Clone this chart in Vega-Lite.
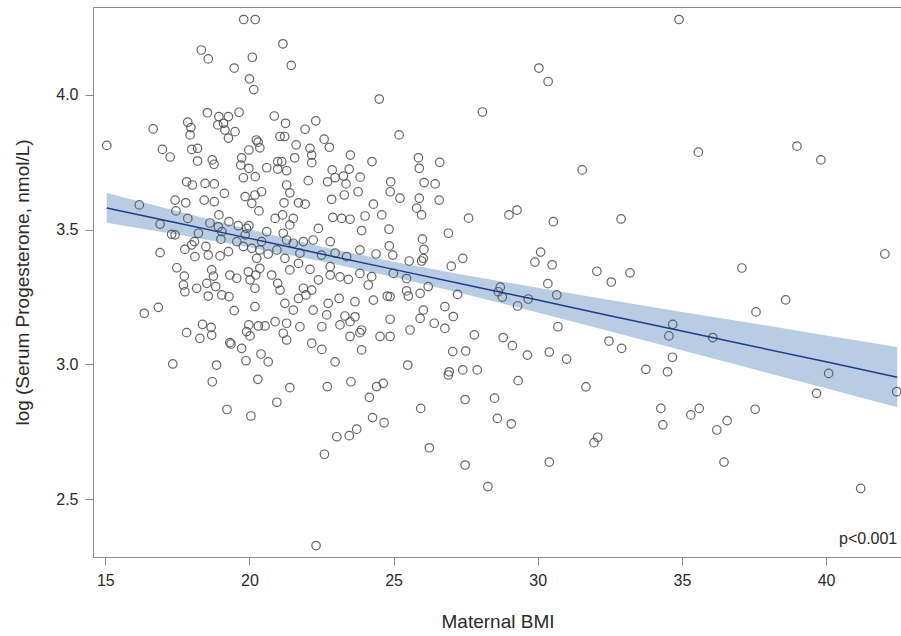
{
  "$schema": "https://vega.github.io/schema/vega-lite/v6.json",
  "width": 809,
  "height": 550,
  "autosize": {"type": "none"},
  "padding": {"left": 93, "top": 7, "right": 0, "bottom": 79},
  "background": "white",
  "config": {
    "view": {"stroke": "#8c8c8c", "strokeWidth": 1},
    "font": "Liberation Sans",
    "axis": {
      "grid": false,
      "domainColor": "#8c8c8c",
      "tickColor": "#8c8c8c",
      "tickSize": 8,
      "labelFontSize": 16,
      "labelColor": "#2a2a2a",
      "labelPadding": 7,
      "titleFontSize": 19,
      "titleFontWeight": "normal",
      "titleColor": "#2a2a2a"
    }
  },
  "datasets": {
    "pts": [
      {"bmi":19.8,"p":4.28},{"bmi":20.2,"p":4.28},{"bmi":18.33,"p":4.167},{"bmi":18.57,"p":4.134},{"bmi":20.1,"p":4.14},{"bmi":19.47,"p":4.10},{"bmi":20.0,"p":4.06},{"bmi":20.15,"p":4.02},{"bmi":21.16,"p":4.19},{"bmi":21.45,"p":4.11},{"bmi":24.5,"p":3.985},{"bmi":30.04,"p":4.10},{"bmi":30.36,"p":4.05},{"bmi":34.9,"p":4.28},{"bmi":28.08,"p":3.937},
      {"bmi":18.54,"p":3.934},{"bmi":18.94,"p":3.92},{"bmi":19.27,"p":3.92},{"bmi":19.64,"p":3.936},{"bmi":18.9,"p":3.889},{"bmi":19.15,"p":3.87},{"bmi":19.5,"p":3.864},{"bmi":19.27,"p":3.84},{"bmi":19.1,"p":3.895},{"bmi":17.86,"p":3.899},{"bmi":17.97,"p":3.879},{"bmi":17.94,"p":3.852},{"bmi":16.66,"p":3.874},{"bmi":15.05,"p":3.813},{"bmi":16.98,"p":3.798},{"bmi":17.25,"p":3.77},{"bmi":18.0,"p":3.798},{"bmi":18.2,"p":3.802},{"bmi":18.2,"p":3.755},{"bmi":18.71,"p":3.759},{"bmi":18.77,"p":3.743},{"bmi":19.73,"p":3.767},{"bmi":19.98,"p":3.796},{"bmi":20.24,"p":3.833},{"bmi":20.36,"p":3.804},{"bmi":20.3,"p":3.825},{"bmi":19.7,"p":3.74},{"bmi":19.98,"p":3.728},{"bmi":20.2,"p":3.697},{"bmi":19.79,"p":3.693},{"bmi":20.6,"p":3.73},{"bmi":20.86,"p":3.922},{"bmi":20.98,"p":3.753},{"bmi":20.98,"p":3.725},{"bmi":17.82,"p":3.678},{"bmi":18.02,"p":3.666},{"bmi":18.46,"p":3.672},{"bmi":18.78,"p":3.67},{"bmi":21.06,"p":3.846},
      {"bmi":21.25,"p":3.895},{"bmi":21.22,"p":3.846},{"bmi":22.3,"p":3.904},{"bmi":21.93,"p":3.873},{"bmi":21.62,"p":3.815},{"bmi":21.57,"p":3.767},{"bmi":22.1,"p":3.802},{"bmi":22.16,"p":3.777},{"bmi":22.16,"p":3.749},{"bmi":22.59,"p":3.836},{"bmi":22.77,"p":3.806},{"bmi":23.5,"p":3.777},{"bmi":24.25,"p":3.753},{"bmi":25.19,"p":3.852},{"bmi":25.86,"p":3.767},{"bmi":25.89,"p":3.728},{"bmi":26.6,"p":3.75},{"bmi":22.87,"p":3.722},{"bmi":23.46,"p":3.725},{"bmi":23.26,"p":3.699},{"bmi":22.97,"p":3.693},{"bmi":23.84,"p":3.695},{"bmi":22.04,"p":3.682},{"bmi":22.71,"p":3.678},{"bmi":23.35,"p":3.67},{"bmi":24.9,"p":3.678},{"bmi":26.06,"p":3.675},{"bmi":26.44,"p":3.67},{"bmi":21.29,"p":3.719},{"bmi":21.29,"p":3.666},{"bmi":21.12,"p":3.753},
      {"bmi":31.54,"p":3.722},{"bmi":35.57,"p":3.788},{"bmi":38.99,"p":3.81},{"bmi":39.82,"p":3.759},{"bmi":30.54,"p":3.53},{"bmi":32.89,"p":3.54},{"bmi":27.6,"p":3.543},{"bmi":29.0,"p":3.555},{"bmi":29.28,"p":3.573},
      {"bmi":26.9,"p":3.487},{"bmi":26.58,"p":3.61},{"bmi":25.89,"p":3.617},{"bmi":25.8,"p":3.58},{"bmi":25.97,"p":3.555},{"bmi":26.0,"p":3.465},{"bmi":26.05,"p":3.427},{"bmi":26.03,"p":3.394},{"bmi":25.97,"p":3.384},{"bmi":27.0,"p":3.365},{"bmi":27.4,"p":3.394},{"bmi":27.22,"p":3.26},
      {"bmi":21.4,"p":3.637},{"bmi":21.2,"p":3.6},{"bmi":21.7,"p":3.6},{"bmi":21.93,"p":3.595},{"bmi":21.15,"p":3.555},{"bmi":21.52,"p":3.542},{"bmi":21.4,"p":3.518},{"bmi":21.17,"p":3.487},{"bmi":22.85,"p":3.613},{"bmi":23.29,"p":3.629},{"bmi":23.77,"p":3.641},{"bmi":24.3,"p":3.595},{"bmi":24.88,"p":3.641},{"bmi":25.22,"p":3.617},{"bmi":22.89,"p":3.546},{"bmi":23.2,"p":3.542},{"bmi":23.49,"p":3.539},{"bmi":24.01,"p":3.551},{"bmi":24.59,"p":3.555},{"bmi":22.39,"p":3.505},{"bmi":23.89,"p":3.497},{"bmi":24.84,"p":3.502},{"bmi":22.8,"p":3.456},{"bmi":22.21,"p":3.462},{"bmi":21.87,"p":3.456},{"bmi":21.52,"p":3.45},{"bmi":21.29,"p":3.462},{"bmi":23.83,"p":3.425},{"bmi":24.39,"p":3.41},{"bmi":24.85,"p":3.44},{"bmi":24.97,"p":3.406},{"bmi":25.54,"p":3.384},{"bmi":23.37,"p":3.4},{"bmi":22.97,"p":3.413},{"bmi":22.5,"p":3.406},{"bmi":21.75,"p":3.413},{"bmi":21.23,"p":3.394},{"bmi":21.7,"p":3.375},{"bmi":22.1,"p":3.353},{"bmi":22.8,"p":3.363},{"bmi":23.14,"p":3.325},{"bmi":23.43,"p":3.316},{"bmi":23.83,"p":3.338},{"bmi":24.24,"p":3.326},{"bmi":24.99,"p":3.338},{"bmi":25.45,"p":3.319},{"bmi":26.2,"p":3.289},{"bmi":22.39,"p":3.314},{"bmi":24.12,"p":3.295},{"bmi":22.8,"p":3.332},{"bmi":21.4,"p":3.351},{"bmi":21.06,"p":3.276},{"bmi":21.87,"p":3.283},{"bmi":22.16,"p":3.276},{"bmi":21.7,"p":3.245},{"bmi":21.96,"p":3.258},{"bmi":22.73,"p":3.227},{"bmi":23.11,"p":3.245},{"bmi":23.66,"p":3.233},{"bmi":24.3,"p":3.239},{"bmi":24.78,"p":3.254},{"bmi":24.88,"p":3.252},{"bmi":25.45,"p":3.273},{"bmi":25.51,"p":3.254},{"bmi":25.92,"p":3.264},{"bmi":26.78,"p":3.215},{"bmi":21.23,"p":3.227},{"bmi":21.52,"p":3.202},{"bmi":22.21,"p":3.202},{"bmi":22.68,"p":3.184},{"bmi":23.31,"p":3.18},{"bmi":23.66,"p":3.177},{"bmi":23.14,"p":3.147},{"bmi":23.49,"p":3.159},{"bmi":23.89,"p":3.128},{"bmi":23.83,"p":3.118},{"bmi":24.88,"p":3.168},{"bmi":25.92,"p":3.171},{"bmi":26.03,"p":3.202},{"bmi":26.41,"p":3.153},{"bmi":26.78,"p":3.134},{"bmi":27.07,"p":3.178},{"bmi":25.57,"p":3.128},{"bmi":22.51,"p":3.14},{"bmi":21.75,"p":3.14},{"bmi":21.29,"p":3.153},{"bmi":21.17,"p":3.116},{"bmi":21.29,"p":3.091},{"bmi":22.16,"p":3.079},{"bmi":22.51,"p":3.056},{"bmi":23.49,"p":3.104},{"bmi":24.53,"p":3.104},{"bmi":24.88,"p":3.104},{"bmi":23.89,"p":3.054},{"bmi":22.97,"p":3.01},{"bmi":25.49,"p":2.998},{"bmi":27.05,"p":3.048},{"bmi":26.93,"p":2.973},
      {"bmi":16.18,"p":3.592},{"bmi":17.42,"p":3.61},{"bmi":17.79,"p":3.6},{"bmi":17.45,"p":3.57},{"bmi":18.43,"p":3.61},{"bmi":18.78,"p":3.604},{"bmi":19.13,"p":3.635},{"bmi":19.85,"p":3.623},{"bmi":20.19,"p":3.629},{"bmi":20.42,"p":3.641},{"bmi":20.08,"p":3.598},{"bmi":20.33,"p":3.57},{"bmi":20.89,"p":3.542},{"bmi":18.94,"p":3.555},{"bmi":17.86,"p":3.542},{"bmi":16.9,"p":3.521},{"bmi":17.3,"p":3.483},{"bmi":17.42,"p":3.481},{"bmi":18.23,"p":3.487},{"bmi":18.63,"p":3.525},{"bmi":18.92,"p":3.511},{"bmi":19.04,"p":3.493},{"bmi":19.29,"p":3.53},{"bmi":19.61,"p":3.515},{"bmi":19.9,"p":3.505},{"bmi":19.85,"p":3.481},{"bmi":19.98,"p":3.515},{"bmi":20.6,"p":3.493},{"bmi":19.01,"p":3.465},{"bmi":19.56,"p":3.456},{"bmi":19.79,"p":3.438},{"bmi":20.08,"p":3.431},{"bmi":20.42,"p":3.456},{"bmi":20.65,"p":3.41},{"bmi":20.36,"p":3.425},{"bmi":20.25,"p":3.394},{"bmi":20.95,"p":3.425},{"bmi":18.09,"p":3.456},{"bmi":17.76,"p":3.427},{"bmi":18.0,"p":3.444},{"bmi":18.49,"p":3.438},{"bmi":18.11,"p":3.4},{"bmi":18.57,"p":3.406},{"bmi":18.98,"p":3.403},{"bmi":19.27,"p":3.419},{"bmi":16.9,"p":3.415},{"bmi":17.48,"p":3.359},{"bmi":17.74,"p":3.328},{"bmi":17.71,"p":3.295},{"bmi":17.76,"p":3.27},{"bmi":18.17,"p":3.283},{"bmi":18.52,"p":3.301},{"bmi":18.69,"p":3.351},{"bmi":18.75,"p":3.328},{"bmi":18.57,"p":3.254},{"bmi":18.83,"p":3.289},{"bmi":19.04,"p":3.258},{"bmi":19.29,"p":3.252},{"bmi":19.32,"p":3.332},{"bmi":19.56,"p":3.32},{"bmi":19.96,"p":3.344},{"bmi":20.02,"p":3.314},{"bmi":20.19,"p":3.283},{"bmi":20.22,"p":3.332},{"bmi":20.36,"p":3.357},{"bmi":20.77,"p":3.332},{"bmi":20.98,"p":3.301},{"bmi":16.35,"p":3.19},{"bmi":16.84,"p":3.212},{"bmi":19.47,"p":3.2},{"bmi":20.19,"p":3.215},{"bmi":17.82,"p":3.118},{"bmi":18.37,"p":3.149},{"bmi":18.67,"p":3.138},{"bmi":18.69,"p":3.109},{"bmi":18.28,"p":3.097},{"bmi":19.32,"p":3.081},{"bmi":19.36,"p":3.076},{"bmi":19.73,"p":3.06},{"bmi":19.9,"p":3.122},{"bmi":19.98,"p":3.147},{"bmi":20.02,"p":3.106},{"bmi":20.31,"p":3.143},{"bmi":20.54,"p":3.143},{"bmi":20.89,"p":3.159},{"bmi":20.4,"p":3.039},{"bmi":20.65,"p":3.01},{"bmi":19.88,"p":3.014},{"bmi":17.34,"p":3.002},{"bmi":18.86,"p":2.998},
      {"bmi":18.71,"p":2.936},{"bmi":20.29,"p":2.945},{"bmi":20.95,"p":2.86},{"bmi":19.22,"p":2.833},{"bmi":20.05,"p":2.809},
      {"bmi":21.4,"p":2.914},{"bmi":22.7,"p":2.918},{"bmi":23.52,"p":2.936},{"bmi":24.41,"p":2.918},{"bmi":24.64,"p":2.93},{"bmi":24.16,"p":2.878},{"bmi":24.27,"p":2.803},{"bmi":24.67,"p":2.784},{"bmi":23.72,"p":2.76},{"bmi":23.46,"p":2.736},{"bmi":23.03,"p":2.732},{"bmi":22.6,"p":2.667},{"bmi":25.94,"p":2.837},{"bmi":26.24,"p":2.691},{"bmi":27.48,"p":2.627},{"bmi":22.31,"p":2.328},{"bmi":26.9,"p":2.961},
      {"bmi":34.68,"p":3.149},{"bmi":34.55,"p":3.106},{"bmi":36.07,"p":3.1},{"bmi":37.57,"p":3.195},{"bmi":38.6,"p":3.24},{"bmi":34.67,"p":3.027},{"bmi":33.75,"p":2.982},{"bmi":34.5,"p":2.973},{"bmi":40.09,"p":2.967},{"bmi":39.67,"p":2.893},{"bmi":42.45,"p":2.899},{"bmi":34.27,"p":2.837},{"bmi":35.31,"p":2.813},{"bmi":35.6,"p":2.837},{"bmi":37.54,"p":2.834},{"bmi":34.34,"p":2.776},{"bmi":36.57,"p":2.792},{"bmi":36.21,"p":2.757},{"bmi":32.91,"p":3.06},
      {"bmi":30.1,"p":3.417},{"bmi":29.9,"p":3.38},{"bmi":30.5,"p":3.37},{"bmi":30.35,"p":3.3},{"bmi":30.66,"p":3.258},{"bmi":30.7,"p":3.14},{"bmi":29.67,"p":3.243},{"bmi":29.3,"p":3.217},{"bmi":28.7,"p":3.287},{"bmi":28.63,"p":3.27},{"bmi":28.77,"p":3.25},{"bmi":28.8,"p":3.10},{"bmi":29.12,"p":3.07},{"bmi":29.64,"p":3.035},{"bmi":30.4,"p":3.046},{"bmi":31.0,"p":3.02},{"bmi":29.32,"p":2.94},{"bmi":29.08,"p":2.78},{"bmi":28.6,"p":2.80},{"bmi":28.5,"p":2.875},{"bmi":28.27,"p":2.547},{"bmi":27.9,"p":2.98},{"bmi":27.4,"p":2.98},{"bmi":27.8,"p":3.11},{"bmi":27.5,"p":3.05},{"bmi":27.48,"p":2.87},{"bmi":30.4,"p":2.638},{"bmi":31.67,"p":2.917},{"bmi":32.08,"p":2.73},{"bmi":31.95,"p":2.71},{"bmi":32.05,"p":3.346},{"bmi":32.55,"p":3.306},{"bmi":33.2,"p":3.34},{"bmi":32.47,"p":3.087},{"bmi":36.46,"p":2.638},{"bmi":37.08,"p":3.358},{"bmi":41.2,"p":2.54},{"bmi":42.04,"p":3.41}
    ],
    "band": [
      {"bmi":15.05,"fit":3.581,"lo":3.526,"hi":3.636},
      {"bmi":17.5,"fit":3.525,"lo":3.482,"hi":3.569},
      {"bmi":20,"fit":3.468,"lo":3.435,"hi":3.501},
      {"bmi":22.5,"fit":3.41,"lo":3.383,"hi":3.437},
      {"bmi":25,"fit":3.353,"lo":3.325,"hi":3.381},
      {"bmi":27.5,"fit":3.296,"lo":3.261,"hi":3.331},
      {"bmi":30,"fit":3.239,"lo":3.193,"hi":3.285},
      {"bmi":32.5,"fit":3.181,"lo":3.123,"hi":3.239},
      {"bmi":35,"fit":3.124,"lo":3.053,"hi":3.195},
      {"bmi":37.5,"fit":3.067,"lo":2.982,"hi":3.152},
      {"bmi":40,"fit":3.01,"lo":2.912,"hi":3.108},
      {"bmi":42.47,"fit":2.953,"lo":2.841,"hi":3.065}
    ],
    "note": [{"bmi":42.47,"p":2.352,"label":"p<0.001"}]
  },
  "layer": [
    {
      "data": {"name": "band"},
      "mark": {"type": "area", "color": "#b8cce4", "opacity": 1},
      "encoding": {
        "x": {"field": "bmi", "type": "quantitative", "title": "Maternal BMI",
              "scale": {"domain": [14.573, 42.634], "nice": false, "zero": false},
              "axis": {"values": [15, 20, 25, 30, 35, 40], "titleY": 64, "titleBaseline": "middle"}},
        "y": {"field": "lo", "type": "quantitative", "title": "log (Serum Progesterone, nmol/L)",
              "scale": {"domain": [2.2857, 4.3265], "nice": false, "zero": false},
              "axis": {"values": [2.5, 3.0, 3.5, 4.0], "format": ".1f", "titleX": -71, "titleBaseline": "middle"}},
        "y2": {"field": "hi"}
      }
    },
    {
      "data": {"name": "pts"},
      "mark": {"type": "point", "shape": "circle", "filled": false, "size": 72, "stroke": "#555555", "strokeWidth": 1.2, "opacity": 0.9},
      "encoding": {
        "x": {"field": "bmi", "type": "quantitative", "title": "Maternal BMI"},
        "y": {"field": "p", "type": "quantitative", "title": "log (Serum Progesterone, nmol/L)"}
      }
    },
    {
      "data": {"name": "band"},
      "mark": {"type": "line", "color": "#1f3c88", "strokeWidth": 1.5},
      "encoding": {
        "x": {"field": "bmi", "type": "quantitative", "title": "Maternal BMI"},
        "y": {"field": "fit", "type": "quantitative", "title": "log (Serum Progesterone, nmol/L)"}
      }
    },
    {
      "data": {"name": "note"},
      "mark": {"type": "text", "align": "right", "baseline": "middle", "fontSize": 16, "color": "#2a2a2a"},
      "encoding": {
        "x": {"field": "bmi", "type": "quantitative", "title": "Maternal BMI"},
        "y": {"field": "p", "type": "quantitative", "title": "log (Serum Progesterone, nmol/L)"},
        "text": {"field": "label"}
      }
    }
  ]
}
